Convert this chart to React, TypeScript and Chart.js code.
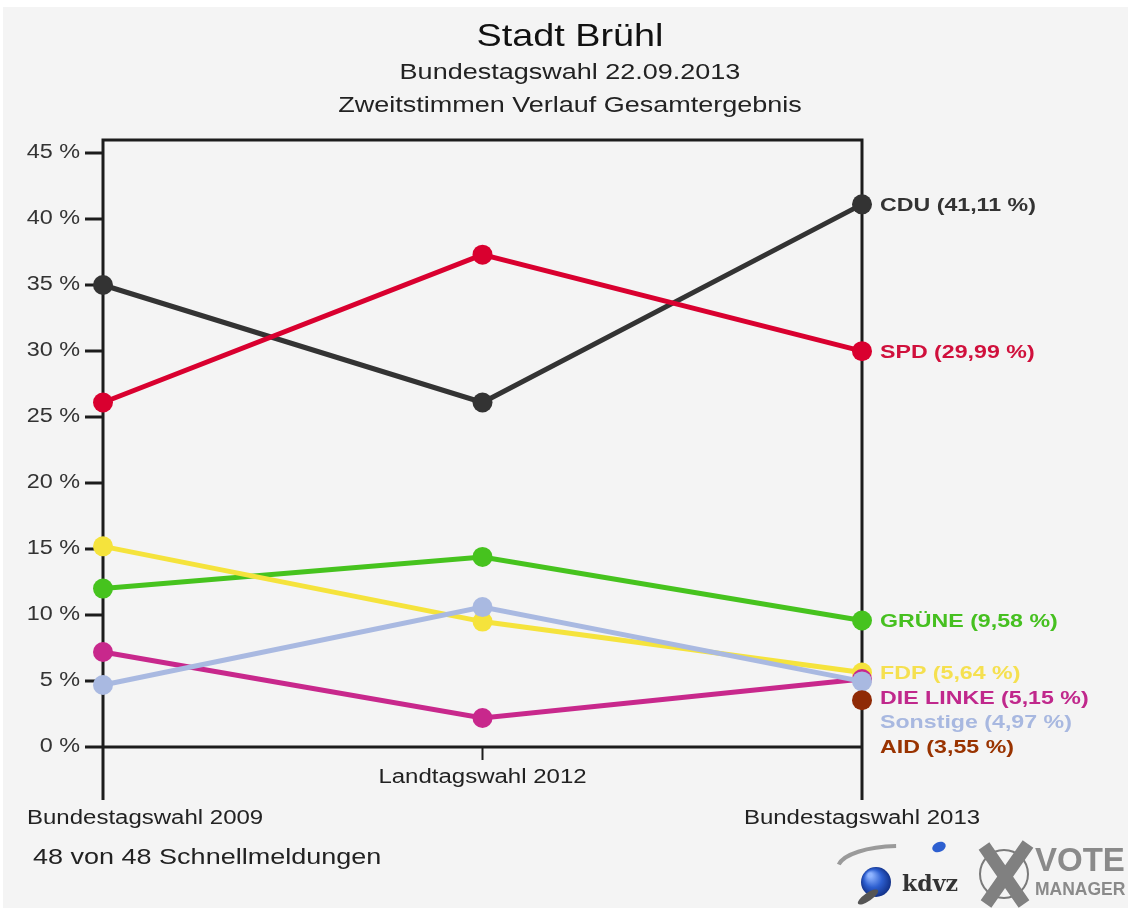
import React, { useEffect, useRef } from "react";
import { Chart, registerables } from "chart.js";

Chart.register(...registerables);

const categories = ["Bundestagswahl 2009", "Landtagswahl 2012", "Bundestagswahl 2013"];
const parties = ["CDU", "SPD", "GRÜNE", "FDP", "DIE LINKE", "Sonstige", "AID"];
const cduValues = [35.0, 26.1, 41.11];
const spdValues = [26.1, 37.3, 29.99];
const grueneValues = [12.0, 14.4, 9.58];
const fdpValues = [15.2, 9.5, 5.64];
const linkeValues = [7.2, 2.2, 5.15];
const sonstigeValues = [4.7, 10.6, 4.97];
const aidValues = [null, null, 3.55];
const partyColors = ["#333333", "#d9002f", "#46c31e", "#f5e33c", "#c8288c", "#a9b9e1", "#8f2a06"];
const labelColors = ["#333333", "#d0103c", "#46c020", "#f5e050", "#c0288c", "#a8b8e0", "#993300"];
const yTicks = [0, 5, 10, 15, 20, 25, 30, 35, 40, 45];
const titleText = "Stadt Brühl";
const subtitleLines = ["Bundestagswahl 22.09.2013", "Zweitstimmen Verlauf Gesamtergebnis"];
const footerText = "48 von 48 Schnellmeldungen";

const SX = 1.2;
const SANS = '"Liberation Sans", Arial, sans-serif';

function txt(ctx: CanvasRenderingContext2D, s: string, x: number, y: number, font: string, color: string, align: string, sx = SX) {
  ctx.save();
  ctx.font = font;
  ctx.fillStyle = color;
  ctx.textBaseline = "middle";
  ctx.textAlign = "left";
  const w = ctx.measureText(s).width * sx;
  let x0 = x;
  if (align === "center") x0 = x - w / 2;
  else if (align === "right") x0 = x - w;
  ctx.translate(x0, y);
  ctx.scale(sx, 1);
  ctx.fillText(s, 0, 0);
  ctx.restore();
  return w;
}

function measure(ctx: CanvasRenderingContext2D, s: string, font: string, sx = SX) {
  ctx.save();
  ctx.font = font;
  const w = ctx.measureText(s).width * sx;
  ctx.restore();
  return w;
}

const decorPlugin = {
  id: "decor",
  beforeDraw(chart: any) {
    const ctx = chart.ctx as CanvasRenderingContext2D;
    ctx.save();
    ctx.fillStyle = "#ffffff";
    ctx.fillRect(0, 0, chart.width, chart.height);
    ctx.fillStyle = "#f4f4f4";
    ctx.fillRect(3, 7, chart.width - 6, chart.height - 12);
    ctx.restore();
  },
  beforeDatasetsDraw(chart: any) {
    const ctx = chart.ctx as CanvasRenderingContext2D;
    const xs = chart.scales.x;
    const ys = chart.scales.y;
    const left = xs.getPixelForValue(0);
    const mid = xs.getPixelForValue(1);
    const right = xs.getPixelForValue(2);
    const zero = ys.getPixelForValue(0);
    const top = ys.getPixelForValue(45) - 13;
    const bottom = zero + 53;
    ctx.save();
    ctx.strokeStyle = "#1c1c1c";
    ctx.lineWidth = 3;
    ctx.lineCap = "butt";
    ctx.beginPath();
    ctx.moveTo(left, top);
    ctx.lineTo(right, top);
    ctx.moveTo(left, top - 1.5);
    ctx.lineTo(left, bottom);
    ctx.moveTo(right, top - 1.5);
    ctx.lineTo(right, bottom);
    ctx.moveTo(left, zero);
    ctx.lineTo(right, zero);
    ctx.stroke();
    ctx.lineWidth = 3;
    ctx.beginPath();
    yTicks.forEach((t) => {
      const y = ys.getPixelForValue(t);
      ctx.moveTo(left - 18, y);
      ctx.lineTo(left, y);
    });
    ctx.stroke();
    ctx.lineWidth = 2;
    ctx.beginPath();
    ctx.moveTo(mid, zero);
    ctx.lineTo(mid, zero + 13);
    ctx.stroke();
    ctx.restore();

    yTicks.forEach((t) => {
      const y = ys.getPixelForValue(t);
      txt(ctx, `${t} %`, left - 23, y, `19.5px ${SANS}`, "#333333", "right");
    });

    // x labels
    const xfont = `20px ${SANS}`;
    categories.forEach((c, i) => {
      const x = xs.getPixelForValue(i);
      const w = measure(ctx, c, xfont);
      if (i === 1) {
        txt(ctx, c, x, zero + 30, xfont, "#222222", "center");
      } else {
        let x0 = x - w / 2;
        if (x0 < 27) x0 = 27;
        txt(ctx, c, x0, zero + 71, xfont, "#222222", "left");
      }
    });

    // titles
    const cx = 570;
    txt(ctx, titleText, cx, 37, `31.5px ${SANS}`, "#111111", "center");
    subtitleLines.forEach((s, i) => {
      txt(ctx, s, cx, 73 + i * 33, `22.5px ${SANS}`, "#222222", "center");
    });
    txt(ctx, footerText, 33, 858, `22.5px ${SANS}`, "#222222", "left");

    // logo
    ctx.save();
    ctx.strokeStyle = "#9a9a9a";
    ctx.lineWidth = 4;
    ctx.beginPath();
    ctx.ellipse(900, 868, 62, 22, 0, Math.PI * 1.05, Math.PI * 1.48);
    ctx.stroke();
    const g = ctx.createRadialGradient(870, 875, 2, 876, 882, 16);
    g.addColorStop(0, "#8fb4ff");
    g.addColorStop(0.5, "#2d5fd0");
    g.addColorStop(1, "#0f2c80");
    ctx.fillStyle = g;
    ctx.beginPath();
    ctx.arc(876, 882, 15, 0, Math.PI * 2);
    ctx.fill();
    ctx.fillStyle = "#2d5fd0";
    ctx.beginPath();
    ctx.ellipse(939, 847, 7, 5, -0.4, 0, Math.PI * 2);
    ctx.fill();
    ctx.fillStyle = "#555555";
    ctx.beginPath();
    ctx.ellipse(868, 897, 12, 4, -0.6, 0, Math.PI * 2);
    ctx.fill();
    ctx.restore();
    txt(ctx, "kdvz", 902, 885, `bold 22px "DejaVu Serif", serif`, "#333333", "left", 1.0);
    ctx.save();
    ctx.strokeStyle = "#7a7a7a";
    ctx.lineWidth = 2;
    ctx.beginPath();
    ctx.arc(1004, 874, 24, 0, Math.PI * 2);
    ctx.stroke();
    ctx.lineWidth = 13;
    ctx.strokeStyle = "#808080";
    ctx.beginPath();
    ctx.moveTo(984, 846);
    ctx.lineTo(1024, 904);
    ctx.moveTo(1028, 844);
    ctx.lineTo(986, 904);
    ctx.stroke();
    ctx.restore();
    txt(ctx, "VOTE", 1035, 862, `bold 33px ${SANS}`, "#8a8a8a", "left", 1.0);
    txt(ctx, "MANAGER", 1035, 890, `bold 17.5px ${SANS}`, "#8a8a8a", "left", 1.0);
  },
  afterDatasetsDraw(chart: any) {
    const ctx = chart.ctx as CanvasRenderingContext2D;
    const xs = chart.scales.x;
    const ys = chart.scales.y;
    const right = xs.getPixelForValue(2);
    const items = chart.data.datasets.map((d: any, i: number) => ({
      name: d.label,
      v: d.data[2] as number,
      color: labelColors[i],
    }));
    items.sort((a: any, b: any) => b.v - a.v);
    let prev = -Infinity;
    items.forEach((it: any) => {
      let y = ys.getPixelForValue(it.v) + 1.5;
      if (y < prev + 24.5) y = prev + 24.5;
      prev = y;
      const s = `${it.name} (${it.v.toFixed(2).replace(".", ",")} %)`;
      txt(ctx, s, right + 18, y, `bold 19px ${SANS}`, it.color, "left", 1.22);
    });
  },
};

export default function App() {
  const ref = useRef<HTMLCanvasElement | null>(null);
  useEffect(() => {
    document.body.style.margin = "0";
    const canvas = ref.current;
    if (!canvas) return;
    const series = [cduValues, spdValues, grueneValues, fdpValues, linkeValues, sonstigeValues, aidValues];
    const chart = new Chart(canvas, {
      type: "line",
      data: {
        labels: categories,
        datasets: series.map((vals, i) => ({
          label: parties[i],
          data: vals,
          borderColor: partyColors[i],
          backgroundColor: partyColors[i],
          pointBackgroundColor: partyColors[i],
          pointBorderColor: partyColors[i],
          pointRadius: 10,
          pointBorderWidth: 0,
          borderWidth: 5,
          tension: 0,
          fill: false,
          clip: false,
          order: series.length - i,
        })),
      },
      options: {
        responsive: false,
        animation: false,
        events: [],
        layout: { padding: { left: 103, right: 269, top: 153, bottom: 166 } },
        plugins: { legend: { display: false }, tooltip: { enabled: false }, title: { display: false } },
        scales: {
          x: { type: "category", offset: false, display: false },
          y: { min: 0, max: 45, display: false },
        },
      },
      plugins: [decorPlugin],
    });
    return () => chart.destroy();
  }, []);
  return <canvas ref={ref} width={1131} height={913} style={{ display: "block" }} />;
}
